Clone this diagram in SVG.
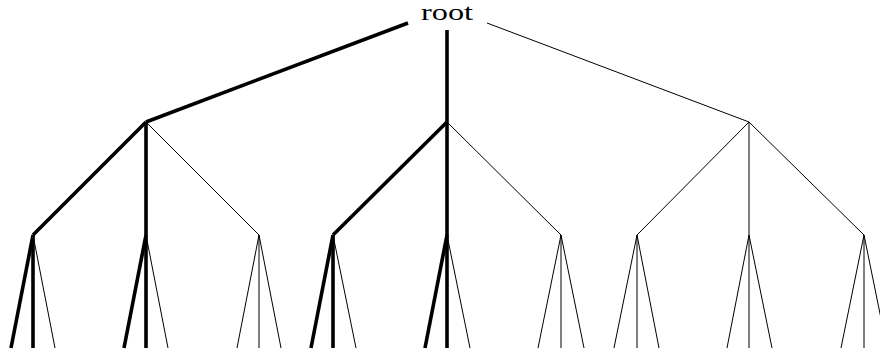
<svg xmlns="http://www.w3.org/2000/svg" width="880" height="356" viewBox="0 0 880 356">
<style>
line{stroke:#000;stroke-linecap:butt}
.k{stroke-width:3.6}
.t{stroke-width:1}
text{font-family:"Liberation Serif","DejaVu Serif",serif;font-size:24px;fill:#000}
</style>
<rect width="880" height="356" fill="#fff"/>
<g id="root"><text x="447" y="20" text-anchor="middle" textLength="52" lengthAdjust="spacingAndGlyphs">root</text></g>
<g id="connectors">
<line class="k" x1="408" y1="23" x2="146" y2="122"/>
<line class="k" x1="447" y1="30" x2="447" y2="122"/>
<line class="t" x1="487" y1="23" x2="749" y2="122"/>
<line class="k" x1="146" y1="122" x2="33" y2="235"/>
<line class="k" x1="146" y1="122" x2="146" y2="235"/>
<line class="t" x1="146" y1="122" x2="259" y2="235"/>
<line class="k" x1="447" y1="122" x2="333" y2="235"/>
<line class="k" x1="447" y1="122" x2="447" y2="235"/>
<line class="t" x1="447" y1="122" x2="561" y2="235"/>
<line class="t" x1="749" y1="122" x2="637" y2="235"/>
<line class="t" x1="749" y1="122" x2="749" y2="235"/>
<line class="t" x1="749" y1="122" x2="864" y2="235"/>
<line class="k" x1="33" y1="235" x2="11" y2="348"/>
<line class="k" x1="33" y1="235" x2="33" y2="348"/>
<line class="t" x1="33" y1="235" x2="55" y2="348"/>
<line class="k" x1="146" y1="235" x2="124" y2="348"/>
<line class="k" x1="146" y1="235" x2="146" y2="348"/>
<line class="t" x1="146" y1="235" x2="168" y2="348"/>
<line class="t" x1="259" y1="235" x2="237" y2="348"/>
<line class="t" x1="259" y1="235" x2="259" y2="348"/>
<line class="t" x1="259" y1="235" x2="281" y2="348"/>
<line class="k" x1="333" y1="235" x2="311" y2="348"/>
<line class="k" x1="333" y1="235" x2="333" y2="348"/>
<line class="t" x1="333" y1="235" x2="356" y2="348"/>
<line class="k" x1="447" y1="235" x2="425" y2="348"/>
<line class="k" x1="447" y1="235" x2="447" y2="348"/>
<line class="t" x1="447" y1="235" x2="470" y2="348"/>
<line class="t" x1="561" y1="235" x2="538" y2="348"/>
<line class="t" x1="561" y1="235" x2="561" y2="348"/>
<line class="t" x1="561" y1="235" x2="584" y2="348"/>
<line class="t" x1="637" y1="235" x2="614" y2="348"/>
<line class="t" x1="637" y1="235" x2="637" y2="348"/>
<line class="t" x1="637" y1="235" x2="659" y2="348"/>
<line class="t" x1="749" y1="235" x2="727" y2="348"/>
<line class="t" x1="749" y1="235" x2="749" y2="348"/>
<line class="t" x1="749" y1="235" x2="772" y2="348"/>
<line class="t" x1="864" y1="235" x2="841" y2="348"/>
<line class="t" x1="864" y1="235" x2="864" y2="348"/>
<line class="t" x1="864" y1="235" x2="887" y2="348"/>
</g>
</svg>
